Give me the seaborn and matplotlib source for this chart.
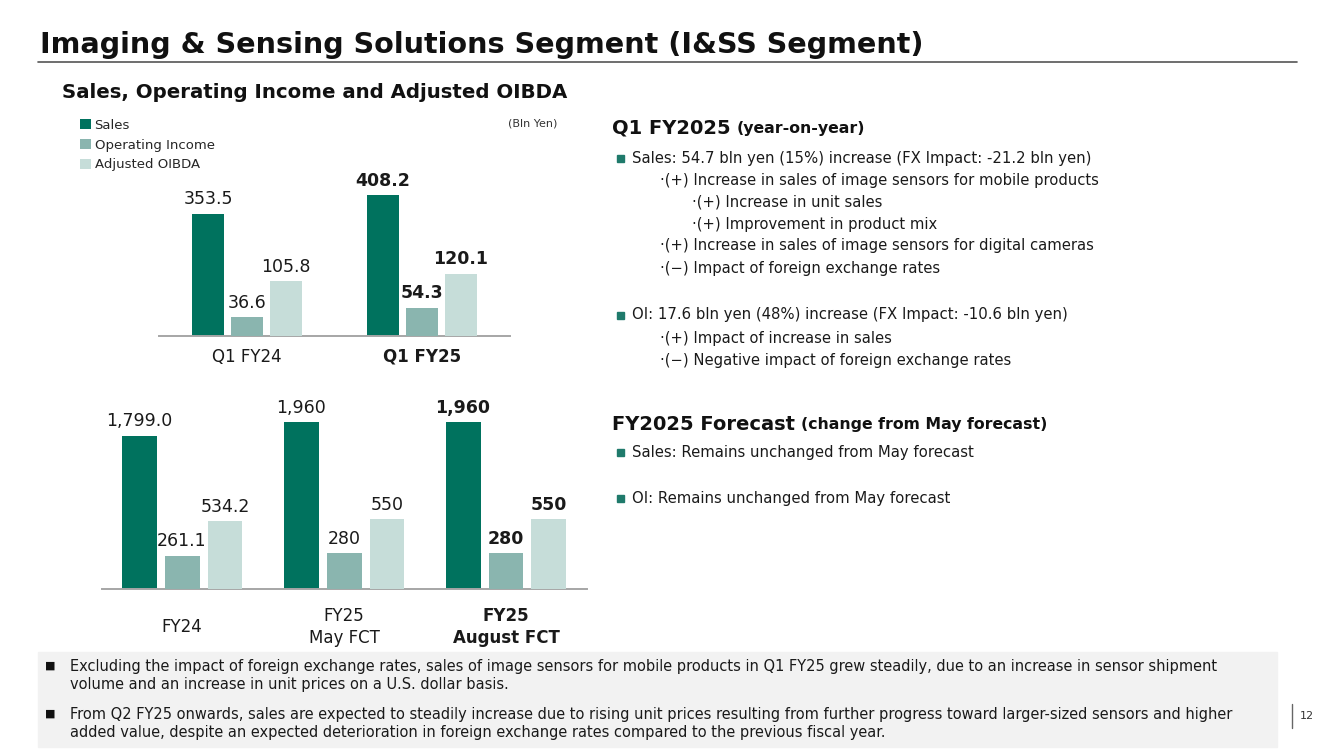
import matplotlib
matplotlib.use("Agg")
import matplotlib.pyplot as plt
import matplotlib.transforms as mtransforms
from matplotlib.patches import Rectangle
import seaborn as sns
import pandas as pd

# ---- data ----
metrics = ["Sales", "Operating Income", "Adjusted OIBDA"]
colors = ["#00725E", "#8AB5AF", "#C6DDD9"]

q_periods = ["Q1 FY24", "Q1 FY25"]
q_sales = [353.5, 408.2]
q_oi = [36.6, 54.3]
q_oibda = [105.8, 120.1]

fy_periods = ["FY24", "FY25\nMay FCT", "FY25\nAugust FCT"]
fy_sales = [1799.0, 1960, 1960]
fy_oi = [261.1, 280, 280]
fy_oibda = [534.2, 550, 550]
fy_sales_lbl = ["1,799.0", "1,960", "1,960"]
fy_oi_lbl = ["261.1", "280", "280"]
fy_oibda_lbl = ["534.2", "550", "550"]

W, H = 1334, 749


def fx(x):
    return x / W


def fy(y):
    return 1 - y / H


def long_df(periods, s, o, a):
    rows = []
    for p, v1, v2, v3 in zip(periods, s, o, a):
        rows.append((p, metrics[0], v1))
        rows.append((p, metrics[1], v2))
        rows.append((p, metrics[2], v3))
    return pd.DataFrame(rows, columns=["period", "metric", "value"])


sns.set_style("white")
plt.rcParams['font.family'] = ['DejaVu Sans']

fig = plt.figure(figsize=(W / 100, H / 100), dpi=100)


def bar_chart(ax, df, periods, width, gap, xlim, ymax1, ymax2, labels, fs):
    # sales on the left scale, OI / OIBDA on a second (hidden) scale
    axb = ax.twinx()
    parts = [(ax, df[df.metric == metrics[0]], ymax1, labels[:1]),
             (axb, df[df.metric != metrics[0]], ymax2, labels[1:])]
    handles = []
    for a, sub, ymax, lbls in parts:
        sns.barplot(data=sub, x="period", y="value", hue="metric", order=periods,
                    hue_order=metrics, palette=colors, width=width, gap=gap,
                    dodge=True, saturation=1, linewidth=0, legend=True, ax=a)
        h, _ = a.get_legend_handles_labels()
        handles += h
        a.get_legend().remove()
        a.set_xlim(*xlim)
        a.set_ylim(0, ymax)
        for side in ["top", "right", "left", "bottom"]:
            a.spines[side].set_visible(False)
        a.set_xticks([])
        a.set_yticks([])
        a.set_xlabel("")
        a.set_ylabel("")
        a.patch.set_alpha(0)
        conts = [c for c in a.containers if len(c) > 0]
        for cont, lbl in zip(conts, lbls):
            txts = a.bar_label(cont, labels=lbl, padding=4, fontsize=fs, color="#1a1a1a")
            txts[-1].set_fontweight("bold")
    ax.spines["bottom"].set_visible(True)
    ax.spines["bottom"].set_color("#A6A6A6")
    ax.spines["bottom"].set_linewidth(1.4)
    return handles[:3]


# ---- top chart (quarter) ----
ax1 = fig.add_axes([fx(159), fy(336), fx(510) - fx(159), (336 - 170) / H])
df_q = long_df(q_periods, q_sales, q_oi, q_oibda)
q_labels = [[f"{v:.1f}" for v in q_sales], [f"{v:.1f}" for v in q_oi], [f"{v:.1f}" for v in q_oibda]]
handles = bar_chart(ax1, df_q, q_periods, 0.669, 0.2, (-0.503, 1.503),
                    166 / 0.345, 166 / 0.517, q_labels, 12.5)
fig.legend(handles, metrics, loc="upper left", bbox_to_anchor=(fx(80), fy(119)),
           frameon=False, fontsize=9.5,
           handlelength=0.8, handleheight=0.8, handletextpad=0.3,
           labelspacing=0.5, borderaxespad=0, borderpad=0)
tr1 = mtransforms.blended_transform_factory(ax1.transData, fig.transFigure)
for i, p in enumerate(q_periods):
    ax1.text(i, fy(357), p, transform=tr1, ha="center", va="center", fontsize=12,
             fontweight="bold" if i == len(q_periods) - 1 else "normal", color="#1a1a1a")

# ---- bottom chart (fiscal year) ----
ax2 = fig.add_axes([fx(102), fy(589), fx(587) - fx(102), (589 - 410) / H])
df_fy = long_df(fy_periods, fy_sales, fy_oi, fy_oibda)
bar_chart(ax2, df_fy, fy_periods, 0.796, 0.186, (-0.494, 2.5), 179 / 0.08505, 179 / 0.127,
          [fy_sales_lbl, fy_oi_lbl, fy_oibda_lbl], 12.5)
tr2 = mtransforms.blended_transform_factory(ax2.transData, fig.transFigure)
for i, p in enumerate(fy_periods):
    ax2.text(i, fy(627), p, transform=tr2, ha="center", va="center", fontsize=12,
             linespacing=1.25,
             fontweight="bold" if i == len(fy_periods) - 1 else "normal", color="#1a1a1a")

# ---- titles ----
fig.text(fx(40), fy(45), "Imaging & Sensing Solutions Segment (I&SS Segment)",
         fontsize=20.6, fontweight="bold", va="center", ha="left", color="#111111")
fig.add_artist(plt.Line2D([fx(38), fx(1297)], [fy(62), fy(62)], color="#555555", lw=1.2))
fig.text(fx(62), fy(92), "Sales, Operating Income and Adjusted OIBDA",
         fontsize=14.2, fontweight="bold", va="center", ha="left", color="#111111")
fig.text(fx(557), fy(123), "(Bln Yen)", fontsize=8, ha="right", va="center", color="#333333")

# ---- right hand commentary ----
bullet_c = "#1F7A6B"


def bullet(x, y):
    fig.add_artist(Rectangle((fx(x), fy(y + 3.5)), 7 / W, 7 / H, color=bullet_c,
                             transform=fig.transFigure))


def heading(y, big, small):
    t = fig.text(fx(612), fy(y), big, fontsize=14, fontweight="bold", va="center", color="#111111")
    fig.canvas.draw()
    bb = t.get_window_extent()
    fig.text(bb.x1 / W + 6 / W, fy(y), small, fontsize=11.3, fontweight="bold",
             va="center", color="#111111")


main_fs = 10.7
sub_fs = 10.6
heading(128, "Q1 FY2025", "(year-on-year)")
bullet(617, 158)
fig.text(fx(632), fy(158), "Sales: 54.7 bln yen (15%) increase (FX Impact: -21.2 bln yen)",
         fontsize=main_fs, va="center", color="#1a1a1a")
subs = [(660, 180, "·(+) Increase in sales of image sensors for mobile products"),
        (692, 202, "·(+) Increase in unit sales"),
        (692, 224, "·(+) Improvement in product mix"),
        (660, 246, "·(+) Increase in sales of image sensors for digital cameras"),
        (660, 268, "·(−) Impact of foreign exchange rates"),
        (660, 338, "·(+) Impact of increase in sales"),
        (660, 361, "·(−) Negative impact of foreign exchange rates")]
for x, y, s in subs:
    fig.text(fx(x), fy(y), s, fontsize=sub_fs, va="center", color="#1a1a1a")
bullet(617, 315)
fig.text(fx(632), fy(315), "OI: 17.6 bln yen (48%) increase (FX Impact: -10.6 bln yen)",
         fontsize=main_fs, va="center", color="#1a1a1a")

heading(424, "FY2025 Forecast", "(change from May forecast)")
bullet(617, 452)
fig.text(fx(632), fy(452), "Sales: Remains unchanged from May forecast",
         fontsize=main_fs, va="center", color="#1a1a1a")
bullet(617, 498)
fig.text(fx(632), fy(498), "OI: Remains unchanged from May forecast",
         fontsize=main_fs, va="center", color="#1a1a1a")

# ---- bottom notes ----
fig.add_artist(Rectangle((fx(38), fy(747)), (1277 - 38) / W, (747 - 652) / H,
                         color="#F2F2F2", transform=fig.transFigure, zorder=0))
notes = [(666, "Excluding the impact of foreign exchange rates, sales of image sensors for mobile products in Q1 FY25 grew steadily, due to an increase in sensor shipment"),
         (684, "volume and an increase in unit prices on a U.S. dollar basis."),
         (714, "From Q2 FY25 onwards, sales are expected to steadily increase due to rising unit prices resulting from further progress toward larger-sized sensors and higher"),
         (732, "added value, despite an expected deterioration in foreign exchange rates compared to the previous fiscal year.")]
for y, s in notes:
    fig.text(fx(70), fy(y), s, fontsize=11.7, va="center", family="DejaVu Sans",
             stretch="condensed", color="#1a1a1a")
for y in (666, 714):
    fig.text(fx(45), fy(y), "■", fontsize=8, va="center", color="#111111")

fig.add_artist(plt.Line2D([fx(1292), fx(1292)], [fy(704), fy(728)], color="#666666", lw=1))
fig.text(fx(1300), fy(716), "12", fontsize=8, va="center", color="#333333")

fig.savefig("out.png", dpi=100)
